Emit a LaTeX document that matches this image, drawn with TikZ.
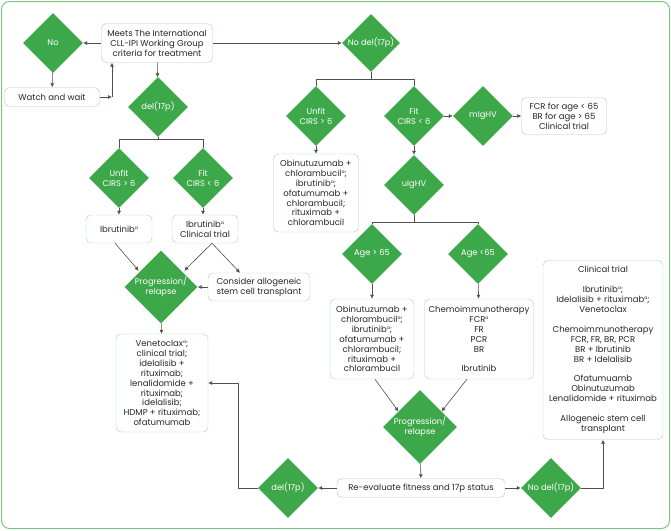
\documentclass[tikz,border=0pt]{standalone}
\usepackage{fontspec}
\setmainfont{Poppins}
\usetikzlibrary{shapes,arrows.meta,positioning}
\definecolor{choicegreen}{RGB}{61,168,73}
\definecolor{boxgreen}{RGB}{165,214,167}
\definecolor{framegreen}{RGB}{128,197,131}
\definecolor{linegray}{RGB}{80,80,80}
\newcommand{\supa}{\raisebox{0.6ex}{\fontsize{4.5}{4.5}\selectfont a}}
\tikzset{box/.style={draw=boxgreen,fill=white,rounded corners=5pt,align=center,inner sep=1pt,text=black!85,font=\fontsize{8.5}{9.9}\selectfont}}
\tikzset{choice/.style={diamond,fill=choicegreen,aspect=1,inner sep=0pt,minimum size=60pt,align=center,text=white,font=\fontsize{8.3}{9.9}\selectfont}}

\begin{document}
\begin{tikzpicture}[x=1pt,y=-1pt,>={Latex[length=4pt,width=4pt]}]
		\tikzstyle{link}=[draw=linegray,line width=0.6pt]

		\useasboundingbox (0,0) rectangle (671,530);
		\draw[framegreen,line width=1pt,rounded corners=8pt] (1.5,1.5) rectangle (669.5,528.5);

		% left side
		\node[choice](no) at (53,43){No};
		\node[box,minimum width=111pt,minimum height=39pt](meets) at (157,43){Meets The International\\CLL-IPI Working Group\\criteria for treatment};
		\node[box,minimum width=95pt,minimum height=19pt](watch) at (52,97){Watch and wait};
		\coordinate (w1) at (112,97);
		\node[choice](del1) at (158,107){del(17p)};
		\coordinate (s1) at (158,139);
		\node[choice](unfitA) at (119,178){Unfit\\CIRS > 6};
		\node[choice](fitA) at (203,178){Fit\\CIRS < 6};
		\node[box,minimum width=66pt,minimum height=28pt](ibrA) at (119,229){Ibrutinib\supa};
		\node[box,minimum width=66pt,minimum height=28pt](ibrB) at (205,229){Ibrutinib\supa\\Clinical trial};
		\node[choice,minimum size=73pt](progA) at (161,287){Progression/\\relapse};
		\node[box,minimum width=102pt,minimum height=28pt](allo) at (259,287){Consider allogeneic\\stem cell transplant};
		\node[box,minimum width=92pt,minimum height=98pt](venet) at (162,383){Venetoclax\supa;\\clinical trial;\\idelalisib +\\rituximab;\\lenalidomide +\\rituximab;\\idelalisib;\\HDMP + rituximab;\\ofatumumab};

		% right side
		\node[choice,minimum size=58pt](nodel1) at (371,43){No del(17p)};
		\coordinate (s2) at (371,79);
		\node[choice](unfitB) at (316,116){Unfit\\CIRS > 6};
		\node[choice](fitB) at (414,116){Fit\\CIRS < 6};
		\node[choice](mighv) at (483,116){mIgHV};
		\node[box,minimum width=85pt,minimum height=37pt](fcr) at (564,116){FCR for age < 65\\BR for age > 65\\Clinical trial};
		\node[box,minimum width=85pt,minimum height=78pt](obinA) at (316,193){Obinutuzumab +\\chlorambucil\supa;\\ibrutinib\supa;\\ofatumumab +\\chlorambucil;\\rituximab +\\chlorambucil};
		\node[choice](uighv) at (414,185){uIgHV};
		\coordinate (s3) at (414,222);
		\node[choice](ageO) at (372,254){Age > 65};
		\node[choice](ageY) at (478,254){Age <65};
		\node[box,minimum width=84pt,minimum height=80pt](obinB) at (372,339){Obinutuzumab +\\chlorambucil\supa;\\ibrutinib\supa;\\ofatumumab +\\chlorambucil;\\rituximab +\\chlorambucil};
		\node[box,minimum width=109pt,minimum height=80pt](chemo) at (479,339){Chemoimmunotherapy\\FCR\supa\\FR\\PCR\\BR\\[9.9pt]Ibrutinib};
		\node[choice,minimum size=74pt](progB) at (420,427){Progression/\\relapse};
		\node[box,minimum width=168pt,minimum height=19pt](reeval) at (421,488){Re-evaluate fitness and 17p status};
		\node[choice](del2) at (288,488){del(17p)};
		\node[choice](nodel2) at (551,488){No del(17p)};
		\node[box,minimum width=120pt,minimum height=179pt](trial) at (603,350){Clinical trial\\[9.9pt]Ibrutinib\supa;\\Idelalisib + rituximab\supa;\\Venetoclax\\[9.9pt]Chemoimmunotherapy\\FCR, FR, BR, PCR\\BR + Ibrutinib\\BR + Idelalisib\\[9.9pt]Ofatumuamb\\Obinutuzumab\\Lenalidomide + rituximab\\[9.9pt]Allogeneic stem cell\\transplant};

		% connectors left
		\draw[link,->] (meets) -- (no);
		\draw[link,->] (no) -- (watch);
		\draw[link,->] (watch) -- (w1);
		\draw[link,->] (w1) -- (w1 |- meets.south);
		\draw[link,->] (meets) -- (del1);
		\draw[link] (del1) -- (s1);
		\draw[link] (s1) -| (unfitA.north);
		\draw[link] (s1) -| (fitA.north);
		\draw[link,->] (unfitA) -- (ibrA);
		\draw[link,->] (fitA.south) -- (fitA.south |- ibrB.north);
		\draw[link,->] ([xshift=-4pt]ibrA.south) -- ([shift={(-4pt,-2pt)}]progA.north west);
		\draw[link,->] ([xshift=7pt]ibrB.south) -- ([shift={(5pt,-2pt)}]progA.north east);
		\draw[link,->] ([xshift=7pt]ibrB.south) -- ([xshift=-19pt]allo.north);
		\draw[link,->] (allo) -- (progA);
		\draw[link,->] (progA) -- (venet);

		% connectors right
		\draw[link,->] (meets) -- (nodel1);
		\draw[link] (nodel1) -- (s2);
		\draw[link] (s2) -| (unfitB.north);
		\draw[link] (s2) -| (fitB.north);
		\draw[link,->] (fitB) -- (mighv);
		\draw[link,->] (mighv) -- (fcr);
		\draw[link,->] (unfitB) -- (obinA);
		\draw[link,->] (fitB) -- (uighv);
		\draw[link] (uighv) -- (s3);
		\draw[link] (s3) -| (ageO.north);
		\draw[link] (s3) -| (ageY.north);
		\draw[link,->] (ageO) -- (obinB);
		\draw[link,->] (ageY) -- (chemo);
		\draw[link,->] ([xshift=3pt]obinB.south) -- ([shift={(-3pt,-3pt)}]progB.north west);
		\draw[link,->] ([xshift=-12pt]chemo.south) -- ([shift={(3pt,-3pt)}]progB.north east);
		\draw[link,->] (progB) -- (reeval);
		\draw[link,->] (reeval) -- (del2);
		\draw[link,->] (reeval) -- (nodel2);
		\draw[link,->] (del2) -| ([xshift=30pt]venet.east) -- (venet.east);
		\draw[link,->] (nodel2) -| (trial.south);
	\end{tikzpicture}
\end{document}
